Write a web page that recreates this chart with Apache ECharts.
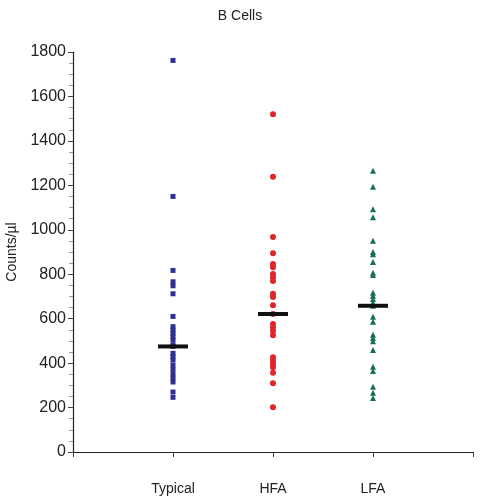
<!DOCTYPE html>
<html><head><meta charset="utf-8">
<script src="https://cdn.jsdelivr.net/npm/echarts@6/dist/echarts.min.js"></script>
<style>html,body{margin:0;padding:0;background:#fff}#c{width:480px;height:501px}</style>
</head><body><div id="c"></div>
<script>
const categories = ['Typical', 'HFA', 'LFA'];
const typicalValues = [1762, 1150, 817, 766, 748, 712, 610, 564, 549, 534, 519, 504, 482, 475, 444, 429, 414, 391, 372, 351, 333, 315, 270, 246];
const hfaValues = [1520, 1239, 967, 894, 846, 831, 801, 786, 770, 712, 697, 660, 621, 576, 560, 546, 525, 426, 411, 396, 381, 357, 309, 201];
const lfaValues = [1266, 1194, 1092, 1056, 951, 900, 890, 855, 807, 797, 717, 703, 689, 672, 658, 609, 586, 528, 513, 498, 459, 384, 364, 294, 267, 243];
const medians = [475, 621, 658];
const yTicks = [0, 200, 400, 600, 800, 1000, 1200, 1400, 1600, 1800];

const groups = [typicalValues, hfaValues, lfaValues];
const styles = [
  {symbol: 'rect', size: 5, color: '#2e3192'},
  {symbol: 'circle', size: 6, color: '#e0262b'},
  {symbol: 'triangle', size: 6, color: '#17704d'}
];
const series = groups.map((vals, i) => ({
  type: 'scatter',
  name: categories[i],
  symbol: styles[i].symbol,
  symbolSize: styles[i].size,
  itemStyle: {color: styles[i].color, opacity: 1},
  data: vals.map(v => [i + 1, v]),
  z: 2
}));
series.push({
  type: 'scatter',
  symbol: 'rect',
  symbolSize: [30, 4],
  itemStyle: {color: '#111', opacity: 1},
  data: medians.map((m, i) => [i + 1, m]),
  z: 3
});

const font = 'Liberation Sans, Arial, sans-serif';
const chart = echarts.init(document.getElementById('c'));
chart.setOption({
  animation: false,
  title: {text: 'B Cells', left: 'center', top: 4, textStyle: {fontSize: 14, fontWeight: 'normal', color: '#222', fontFamily: font}},
  grid: {left: 73, right: 7, top: 52, bottom: 49, containLabel: false, outerBoundsMode: 'none'},
  xAxis: {
    type: 'value', min: 0, max: 4, interval: 1,
    axisLine: {lineStyle: {color: '#222', width: 1.2}},
    axisTick: {show: true, length: 5, lineStyle: {color: '#444'}},
    splitLine: {show: false},
    axisLabel: {
      margin: 30, fontSize: 14, color: '#222', fontFamily: font,
      formatter: v => (v >= 1 && v <= 3) ? categories[v - 1] : ''
    }
  },
  yAxis: {
    type: 'value', min: yTicks[0], max: yTicks[yTicks.length - 1], interval: 200,
    name: 'Counts/µl', nameLocation: 'middle', nameGap: 53, nameRotate: 90,
    nameTextStyle: {fontSize: 14, color: '#222', fontFamily: font},
    axisLine: {show: true, lineStyle: {color: '#222', width: 1.2}},
    axisTick: {show: true, length: 5, lineStyle: {color: '#444'}},
    minorTick: {show: true, splitNumber: 4, length: 4, lineStyle: {color: '#999'}},
    splitLine: {show: false},
    axisLabel: {fontSize: 16, color: '#222', margin: 7, fontFamily: font, formatter: v => String(v)}
  },
  series: series
});
</script>
</body></html>
